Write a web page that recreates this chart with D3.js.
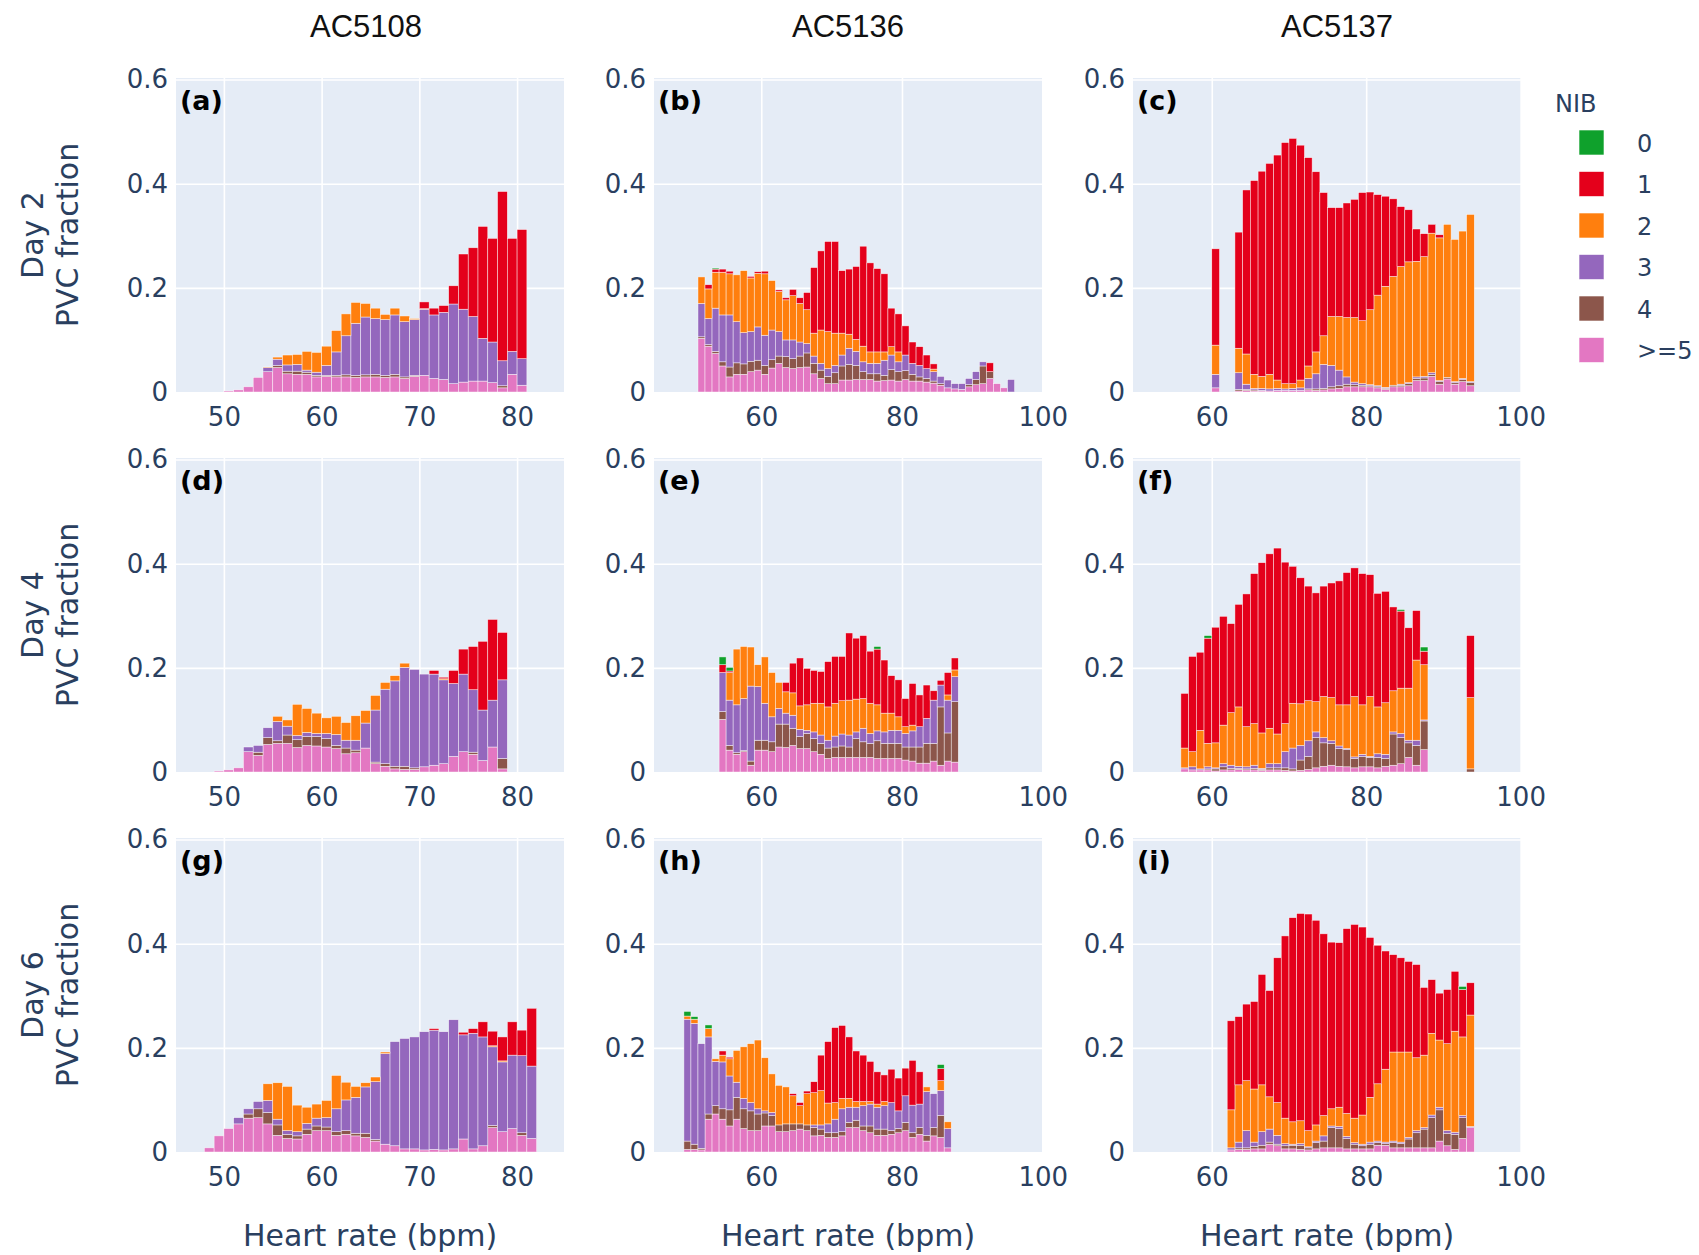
<!DOCTYPE html>
<html>
<head>
<meta charset="utf-8">
<script src="https://cdn.jsdelivr.net/npm/d3@7"></script>
<style>
  body { margin: 0; background: #fff; }
  svg { display: block; }
</style>
</head>
<body>
<div id="chart"></div>
<script>
// NIB groups, legend order (top to bottom)
const categories = ['0', '1', '2', '3', '4', '>=5'];
const categoryColors = ['#0fa12c', '#e4001b', '#ff7f0e', '#9467bd', '#8c564b', '#e377c2'];
const columnTitles = ['AC5108', 'AC5136', 'AC5137'];
const rowTitles = ['Day 2', 'Day 4', 'Day 6'];
const panelLetters = ['(a)', '(b)', '(c)', '(d)', '(e)', '(f)', '(g)', '(h)', '(i)'];
const yTicks = [0, 0.2, 0.4, 0.6];
const xTicksByCol = [[50, 60, 70, 80], [60, 80, 100], [60, 80, 100]];
const xDomainByCol = [[45.1, 84.8], [44.75, 99.9], [49.8, 100.05]];

// each panel: first 1-bpm bin, then PVC fraction per NIB group and bin
// (a) AC5108 day 2
const a_start = 50;
const a_ge5 = [0.002,0.004,0.010,0.028,0.039,0.047,0.035,0.034,0.034,0.029,0.030,0.029,0.029,0.028,0.029,0.029,0.028,0.029,0.026,0.030,0.032,0.026,0.024,0.016,0.019,0.021,0.021,0.018,0.008,0.034,0.013];
const a_n4 = [0,0,0,0,0,0.004,0.005,0.006,0.004,0.003,0.002,0.003,0.004,0.004,0.004,0.005,0.004,0.005,0.003,0.002,0,0,0,0,0,0,0,0,0.004,0,0];
const a_n3 = [0,0,0,0,0.008,0.012,0.012,0.013,0.004,0.006,0.019,0.045,0.075,0.100,0.111,0.107,0.107,0.114,0.106,0.107,0.127,0.122,0.129,0.153,0.140,0.124,0.082,0.078,0.048,0.044,0.051];
const a_n2 = [0,0,0,0,0.001,0.004,0.019,0.019,0.036,0.038,0.037,0.041,0.042,0.040,0.026,0.020,0.010,0.013,0.011,0.002,0.001];
const a_n1 = [0,0,0,0,0,0,0,0,0,0,0,0,0,0,0,0,0,0,0,0,0.013,0.013,0.013,0.035,0.106,0.132,0.215,0.199,0.325,0.217,0.248];
const a_n0 = [];

// (b) AC5136 day 2
const b_start = 51;
const b_ge5 = [0.103,0.088,0.074,0.050,0.029, 0.034,0.034,0.039,0.042,0.034,0.046,0.055,0.047,0.045,0.047, 0.048,0.035,0.026,0.016,0.016,0.023,0.023,0.024,0.024,0.024, 0.021,0.022,0.023,0.021,0.024,0.021,0.021,0.019,0.017,0.013, 0.008,0.006,0.005,0.010,0.014,0.016,0.026,0.016,0.008,0];
const b_n4 = [0.003,0.003,0.004,0.008,0.019, 0.022,0.020,0.020,0.019,0.017,0.016,0.014,0.021,0.019,0.022, 0.027,0.020,0.016,0.014,0.021,0.027,0.030,0.027,0.015,0.011, 0.014,0.010,0.020,0.018,0.017,0.013,0.008,0.007,0.004,0.003, 0,0,0,0.004,0.010,0.034,0.013,0,0,0];
const b_n3 = [0.064,0.050,0.083,0.090,0.100, 0.079,0.060,0.057,0.064,0.058,0.057,0.047,0.032,0.036,0.027, 0.018,0.014,0.013,0.015,0.014,0.021,0.031,0.027,0.019,0.020, 0.020,0.029,0.028,0.019,0.030,0.021,0.022,0.019,0.018,0.014, 0.015,0.010,0.011,0.012,0.015,0.008,0,0,0,0.024];
const b_n2 = [0.051,0.057,0.069,0.082,0.079, 0.090,0.119,0.103,0.103,0.118,0.095,0.077,0.077,0.085,0.074, 0.065,0.044,0.064,0.071,0.062,0.042,0.027,0.023,0.030,0.022, 0.022,0.016,0.016,0.019,0,0,0,0,0.005,0];
const b_n1 = [0,0.008,0.006,0.006,0.005, 0,0,0.003,0.003,0.005,0,0.003,0.004,0.012,0.011, 0.033,0.126,0.152,0.173,0.176,0.120,0.125,0.140,0.192,0.171, 0.160,0.150,0.074,0.073,0.056,0.041,0.036,0.026,0.010,0, 0,0,0,0,0,0,0.017];
const b_n0 = [0,0,0.002];

// (c) AC5137 day 2
const c_start = 60;
const c_ge5 = [0.008,0,0, 0.002,0.003,0.002,0.002,0.002,0.003,0.003,0.003,0.003,0.004, 0.003,0.004,0.006,0.007,0.010,0.010,0.010,0.010,0.008,0.005, 0.010,0.010,0.012,0.022,0.022,0.030,0.015,0.025,0.015,0.020,0.012];
const c_n4 = [0,0,0, 0.003,0.002,0.002,0.001,0,0,0,0,0,0.002, 0.003,0.003,0.004,0.005,0.005,0.004,0.003,0.002,0.002,0.002, 0.003,0.003,0.004,0.004,0.005,0.004,0.005,0.003,0.003,0.004,0.006];
const c_n3 = [0.026,0,0, 0.032,0.010,0.003,0.004,0.004,0.004,0.003,0.004,0.005,0.020, 0.029,0.046,0.041,0.030,0.014,0.005,0.003,0.002,0.002,0.002, 0,0.002,0.002,0.003,0.003,0.003,0.002,0,0.002,0.002,0.002];
const c_n2 = [0.056,0,0, 0.047,0.058,0.027,0.023,0.028,0.016,0.010,0.009,0.015,0.024, 0.042,0.055,0.094,0.103,0.114,0.124,0.121,0.144,0.174,0.194, 0.209,0.226,0.232,0.222,0.230,0.268,0.274,0.294,0.273,0.283,0.321];
const c_n1 = [0.185,0,0, 0.223,0.315,0.372,0.394,0.405,0.432,0.463,0.471,0.451,0.400, 0.346,0.275,0.209,0.209,0.220,0.227,0.246,0.226,0.193,0.173, 0.149,0.115,0.100,0.062,0.044,0.017,0.006];
const c_n0 = [];

// (d) AC5108 day 4
const d_start = 49;
const d_ge5 = [0.002,0.004,0.008,0.039,0.032,0.053,0.055,0.055,0.047,0.051, 0.050,0.048,0.045,0.035,0.037,0.046,0.016,0.011,0.006,0.005, 0.005,0.010,0.013,0.016,0.030,0.039,0.034,0.022,0.048,0.006];
const d_n4 = [0,0,0,0,0.006,0.013,0.005,0.016,0.015,0.017, 0.018,0.016,0.006,0.011,0.005,0,0.003,0.005,0.005,0.006, 0.003,0,0,0,0,0,0.004,0,0,0.020];
const d_n3 = [0,0,0,0.009,0.013,0.019,0.037,0.017,0.008,0.008, 0.006,0.010,0.021,0.015,0.019,0.048,0.100,0.143,0.164,0.190, 0.189,0.178,0.175,0.161,0.140,0.149,0.120,0.097,0.090,0.151];
const d_n2 = [0,0,0,0,0,0,0.010,0.012,0.060,0.046, 0.039,0.030,0.035,0.034,0.047,0.024,0.028,0.013,0.010,0.008, 0,0,0,0.002];
const d_n1 = [0,0,0,0,0,0,0,0,0,0, 0,0,0,0,0,0,0,0,0,0, 0,0,0.007,0.003,0.025,0.048,0.083,0.132,0.155,0.091];
const d_n0 = [];

// (e) AC5136 day 4
const e_start = 54;
const e_ge5 = [0.101,0.042,0.034,0.039,0.013,0.042,0.042,0.039,0.048,0.047, 0.051,0.045,0.045,0.039,0.034,0.026,0.028,0.028,0.028,0.028, 0.028,0.028,0.026,0.026,0.026,0.026,0.023,0.021,0.017,0.017, 0.021,0.013,0.021,0.019];
const e_n4 = [0.015,0.009,0.003,0.002,0.008,0.019,0.019,0.019,0.044,0.045, 0.033,0.023,0.029,0.025,0.021,0.020,0.020,0.022,0.020,0.036, 0.030,0.027,0.034,0.029,0.029,0.029,0.025,0.027,0.031,0.038, 0.034,0.112,0.054,0.116];
const e_n3 = [0.075,0.087,0.092,0.100,0.144,0.103,0.071,0.048,0.030,0.021, 0.025,0.014,0.006,0.013,0.016,0.015,0.021,0.023,0.023,0.013, 0.026,0.019,0.019,0.022,0.025,0.025,0.026,0.031,0.039,0.048, 0.083,0.042,0.063,0.048];
const e_n2 = [0,0.053,0.107,0.100,0.075,0.042,0.089,0.085,0.050,0.041, 0.043,0.045,0.049,0.055,0.061,0.064,0.063,0.064,0.067,0.063, 0.057,0.058,0.050,0.036,0.033,0.026,0.013,0.011,0,0, 0,0,0.010,0.013];
const e_n1 = [0.015,0.003,0,0,0,0,0,0,0,0.018, 0.057,0.092,0.070,0.063,0.061,0.087,0.090,0.085,0.129,0.117, 0.121,0.100,0.107,0.102,0.072,0.071,0.054,0.080,0.061,0.064, 0.018,0.009,0.043,0.023];
const e_n0 = [0.015,0.007,0,0,0,0,0,0,0,0, 0,0,0,0,0,0,0,0,0,0, 0,0,0.005];

// (f) AC5137 day 4
const f_start = 56;
const f_ge5 = [0.006,0.004,0.004,0.004,0.002,0.004,0.004,0.005,0.004,0.004, 0.003,0.004,0.004,0.003,0.002,0.003,0.005,0.008,0.011,0.013, 0.011,0.010,0.008,0.010,0.010,0.008,0.011,0.013,0.016,0.028, 0.013,0.043,0,0,0,0,0,0];
const f_n4 = [0,0,0,0.002,0.004,0.006,0.003,0.002,0.002,0.003, 0.002,0.004,0.004,0.005,0.004,0.020,0.025,0.058,0.045,0.042, 0.034,0.033,0.018,0.020,0.018,0.020,0.015,0.060,0.050,0.028, 0.038,0.055,0,0,0,0,0,0.006];
const f_n3 = [0.002,0.006,0.002,0.004,0.002,0.006,0.006,0.004,0.004,0.006, 0.002,0.008,0.008,0.031,0.040,0.028,0.030,0.011,0.010,0.005, 0.005,0.002,0.003,0.004,0.002,0.007,0.008,0.004,0.008,0.005, 0.010,0.002];
const f_n2 = [0.038,0.029,0.074,0.045,0.048,0.074,0.101,0.114,0.077,0.080, 0.068,0.068,0.057,0.054,0.086,0.080,0.077,0.058,0.079,0.083, 0.079,0.084,0.116,0.095,0.115,0.090,0.099,0.079,0.087,0.100, 0.154,0.106,0,0,0,0,0,0.137];
const f_n1 = [0.105,0.183,0.150,0.202,0.222,0.209,0.171,0.197,0.255,0.288, 0.327,0.335,0.357,0.310,0.263,0.242,0.220,0.209,0.212,0.220, 0.238,0.254,0.247,0.252,0.234,0.218,0.214,0.161,0.148,0.116, 0.095,0.026,0,0,0,0,0,0.119];
const f_n0 = [0,0,0,0.005,0,0,0,0,0,0, 0,0,0,0,0,0,0,0,0,0, 0,0,0,0,0,0,0,0,0.003,0, 0,0.008];

// (g) AC5108 day 6
const g_start = 48;
const g_ge5 = [0.008,0.031,0.045,0.054,0.065,0.066,0.054,0.032,0.026,0.025, 0.034,0.041,0.041,0.032,0.034,0.031,0.028,0.021,0.015,0.012, 0.006,0.006,0.004,0.005,0.004,0.006,0.025,0.006,0.012,0.047, 0.039,0.045,0.032,0.026];
const g_n4 = [0,0,0,0,0.008,0.017,0.022,0.020,0.008,0.006, 0.010,0.009,0.007,0.007,0.007,0.005,0.008,0.003,0,0, 0,0,0,0,0,0,0,0,0,0.004, 0,0,0.005,0];
const g_n3 = [0,0,0,0.012,0.010,0.014,0.023,0.011,0.007,0.008, 0.011,0.015,0.018,0.044,0.059,0.069,0.089,0.111,0.174,0.200, 0.212,0.215,0.227,0.229,0.227,0.248,0.200,0.222,0.209,0.151, 0.134,0.141,0.148,0.139];
const g_n2 = [0,0,0,0,0,0,0.032,0.070,0.085,0.051, 0.031,0.027,0.033,0.064,0.034,0.021,0.008,0.009,0.003,0, 0,0,0,0,0,0,0,0,0,0.002, 0.002];
const g_n1 = [0,0,0,0,0,0,0,0,0,0, 0,0,0,0,0,0,0,0,0,0, 0,0,0,0.003,0,0,0.005,0.009,0.029,0.028, 0.046,0.064,0.049,0.111];
const g_n0 = [];

// (h) AC5136 day 6
const h_start = 49;
const h_ge5 = [0.005,0.005,0.004,0.063,0.073,0.063,0.050,0.063,0.045,0.041, 0.041,0.050,0.050,0.039,0.039,0.041,0.044,0.041,0.031,0.032, 0.028,0.028,0.031,0.047,0.047,0.041,0.037,0.032,0.032,0.034, 0.037,0.041,0.028,0.034,0.021,0.031,0.028,0.008];
const h_n4 = [0.016,0.010,0.003,0.010,0.016,0.020,0.031,0.042,0.038,0.038, 0.032,0.025,0.020,0.013,0.015,0.013,0.010,0.011,0.016,0.012, 0.009,0.009,0.008,0.010,0.014,0.009,0.013,0.012,0.012,0.007, 0.008,0.016,0.009,0.013,0.011,0.016,0.042,0];
const h_n3 = [0.234,0.232,0.201,0.148,0.085,0.090,0.065,0.029,0.020,0.016, 0.010,0.004,0.006,0,0,0,0,0,0.005,0.008, 0.017,0.026,0.044,0.029,0.025,0.039,0.042,0.042,0.045,0.054, 0.034,0.051,0.053,0.045,0.084,0.065,0.048,0.037];
const h_n2 = [0.006,0.008,0,0.016,0.005,0.013,0.033,0.061,0.099,0.113, 0.132,0.102,0.074,0.076,0.071,0.054,0.035,0.060,0.062,0.066, 0.040,0.032,0.020,0.017,0.011,0.008,0.005,0.006,0.008,0, 0,0,0,0,0.009,0,0.019,0.013];
const h_n1 = [0,0,0,0,0,0.008,0.003,0,0,0, 0,0,0,0,0,0.004,0.006,0.005,0.021,0.068, 0.118,0.144,0.140,0.118,0.097,0.089,0.077,0.062,0.051,0.064, 0.063,0.053,0.086,0.062,0,0,0.023,0];
const h_n0 = [0.009,0.005,0,0.007,0,0,0,0,0,0, 0,0,0,0,0,0,0,0,0,0, 0,0,0,0,0,0,0,0,0,0, 0,0,0,0,0,0,0.008];

// (i) AC5137 day 6
const i_start = 62;
const i_ge5 = [0.004,0.005,0.005,0.006,0.006,0.015,0.012,0.006,0.006,0.005, 0.004,0.006,0.008,0.008,0.008,0.006,0.006,0.006,0.006,0.013, 0.013,0.008,0.008,0.008,0.008,0.008,0.008,0.021,0.012,0.005,0.026,0.047];
const i_n4 = [0,0.003,0.003,0.005,0.007,0.004,0.003,0.006,0.007,0.008, 0.004,0.012,0.013,0.039,0.037,0.020,0.009,0.006,0.009,0.005, 0.003,0.010,0.008,0.017,0.029,0.036,0.058,0.060,0.024,0.029,0.040,0];
const i_n3 = [0.004,0.011,0.033,0.008,0.026,0.025,0.017,0.004,0.002,0.003, 0.002,0.003,0.010,0.003,0.004,0.004,0.003,0.003,0.004,0.003, 0.003,0.003,0.003,0.003,0.004,0.003,0.005,0.005,0.005,0.004,0.004,0.002];
const i_n2 = [0.073,0.110,0.096,0.102,0.090,0.062,0.063,0.049,0.043,0.044, 0.031,0.031,0.039,0.033,0.037,0.044,0.047,0.056,0.086,0.110, 0.140,0.171,0.173,0.164,0.140,0.139,0.157,0.129,0.167,0.194,0.151,0.214];
const i_n1 = [0.171,0.131,0.147,0.168,0.212,0.204,0.278,0.350,0.392,0.398, 0.416,0.393,0.349,0.320,0.316,0.355,0.372,0.361,0.307,0.266, 0.227,0.187,0.181,0.174,0.179,0.130,0.103,0.090,0.104,0.115,0.091,0.062];
const i_n0 = [0,0,0,0,0,0,0,0,0,0, 0,0,0,0,0,0,0,0,0,0, 0,0,0,0,0,0,0,0,0,0,0.006];

// stacking order bottom -> top
const stackKeys = ['ge5', 'n4', 'n3', 'n2', 'n1', 'n0'];
const keyColor = { n0: categoryColors[0], n1: categoryColors[1], n2: categoryColors[2], n3: categoryColors[3], n4: categoryColors[4], ge5: categoryColors[5] };

const panels = [
  { start: a_start, s: [a_ge5, a_n4, a_n3, a_n2, a_n1, a_n0] },
  { start: b_start, s: [b_ge5, b_n4, b_n3, b_n2, b_n1, b_n0] },
  { start: c_start, s: [c_ge5, c_n4, c_n3, c_n2, c_n1, c_n0] },
  { start: d_start, s: [d_ge5, d_n4, d_n3, d_n2, d_n1, d_n0] },
  { start: e_start, s: [e_ge5, e_n4, e_n3, e_n2, e_n1, e_n0] },
  { start: f_start, s: [f_ge5, f_n4, f_n3, f_n2, f_n1, f_n0] },
  { start: g_start, s: [g_ge5, g_n4, g_n3, g_n2, g_n1, g_n0] },
  { start: h_start, s: [h_ge5, h_n4, h_n3, h_n2, h_n1, h_n0] },
  { start: i_start, s: [i_ge5, i_n4, i_n3, i_n2, i_n1, i_n0] }
];

// layout
const width = 1699, height = 1255;
const colLeft = [176, 654, 1133];
const rowTop = [78, 458, 838];
const plotW = 388, plotH = 314;
const FONT = '"DejaVu Sans", Verdana, sans-serif';
const INK = '#2a3f5f';

const svg = d3.select('#chart').append('svg')
  .attr('width', width)
  .attr('height', height)
  .style('font-family', FONT);

const fmtY = d => d === 0 ? '0' : d3.format('.1f')(d);

panels.forEach((p, idx) => {
  const row = Math.floor(idx / 3), col = idx % 3;
  const g = svg.append('g').attr('transform', `translate(${colLeft[col]},${rowTop[row]})`);

  const x = d3.scaleLinear().domain(xDomainByCol[col]).range([0, plotW]);
  const y = d3.scaleLinear().domain([0, 0.603]).range([plotH, 0]);

  g.append('rect').attr('width', plotW).attr('height', plotH).attr('fill', '#e5ecf6');

  // grid
  g.append('g')
    .attr('transform', `translate(0,${plotH})`)
    .call(d3.axisBottom(x).tickValues(xTicksByCol[col].filter(t => x(t) <= plotW + 1)).tickSize(-plotH).tickFormat(''))
    .call(s => s.select('.domain').remove())
    .selectAll('line').attr('stroke', '#fff').attr('stroke-width', 1.6);
  g.append('g')
    .call(d3.axisLeft(y).tickValues(yTicks.slice(1)).tickSize(-plotW).tickFormat(''))
    .call(s => s.select('.domain').remove())
    .selectAll('line').attr('stroke', '#fff').attr('stroke-width', 1.6);

  // stacked bars
  const n = d3.max(p.s, a => a.length);
  const rows = d3.range(n).map(i => {
    const r = { bin: p.start + i };
    stackKeys.forEach((k, j) => { r[k] = p.s[j][i] || 0; });
    return r;
  });
  const layers = d3.stack().keys(stackKeys)(rows);

  g.selectAll('g.layer')
    .data(layers)
    .join('g')
    .attr('class', 'layer')
    .attr('fill', d => keyColor[d.key])
    .selectAll('rect')
    .data(d => d.filter(v => v[1] - v[0] > 0))
    .join('rect')
    .attr('x', d => x(d.data.bin))
    .attr('width', d => x(d.data.bin + 1) - x(d.data.bin))
    .attr('y', d => y(d[1]))
    .attr('height', d => y(d[0]) - y(d[1]))
    .attr('stroke', '#ffffff')
    .attr('stroke-width', 0.6)
    .attr('stroke-opacity', 0.75);

  // axes
  g.append('g')
    .attr('transform', `translate(0,${plotH})`)
    .call(d3.axisBottom(x).tickValues(xTicksByCol[col]).tickSize(0).tickPadding(16))
    .call(s => s.select('.domain').remove())
    .attr('font-size', 26).attr('font-family', FONT).attr('color', INK);
  g.append('g')
    .call(d3.axisLeft(y).tickValues(yTicks).tickSize(0).tickPadding(8).tickFormat(fmtY))
    .call(s => s.select('.domain').remove())
    .attr('font-size', 26).attr('font-family', FONT).attr('color', INK);

  // panel letter
  g.append('text')
    .attr('x', 4).attr('y', 32)
    .attr('font-size', 27).attr('font-weight', 'bold').attr('fill', '#000')
    .text(panelLetters[idx]);
});

// column titles
const colTitleX = [366, 848, 1337];
columnTitles.forEach((t, c) => {
  svg.append('text')
    .attr('x', colTitleX[c]).attr('y', 37)
    .attr('text-anchor', 'middle')
    .attr('font-family', '"Liberation Sans", Arial, sans-serif')
    .attr('font-size', 31).attr('fill', '#111')
    .text(t);
});

// x axis titles
colLeft.forEach(l => {
  svg.append('text')
    .attr('x', l + plotW / 2).attr('y', 1246)
    .attr('text-anchor', 'middle')
    .attr('font-size', 30).attr('fill', INK)
    .text('Heart rate (bpm)');
});

// row titles
rowTitles.forEach((t, r) => {
  const cy = rowTop[r] + plotH / 2;
  const tg = svg.append('g').attr('fill', INK).attr('font-size', 30).attr('text-anchor', 'middle');
  tg.append('text').attr('transform', `translate(43,${cy}) rotate(-90)`).text(t);
  tg.append('text').attr('transform', `translate(78,${cy}) rotate(-90)`).text('PVC fraction');
});

// legend
const lg = svg.append('g').attr('fill', INK).attr('font-size', 24);
lg.append('text').attr('x', 1555).attr('y', 112).text('NIB');
categories.forEach((c, i) => {
  const cy = 142.5 + i * 41.5;
  lg.append('rect')
    .attr('x', 1579).attr('y', cy - 12.5)
    .attr('width', 25).attr('height', 25)
    .attr('fill', categoryColors[i])
    .attr('stroke', '#ffffff').attr('stroke-width', 0.6);
  lg.append('text').attr('x', 1637).attr('y', cy + 9).text(c);
});
</script>
</body>
</html>
